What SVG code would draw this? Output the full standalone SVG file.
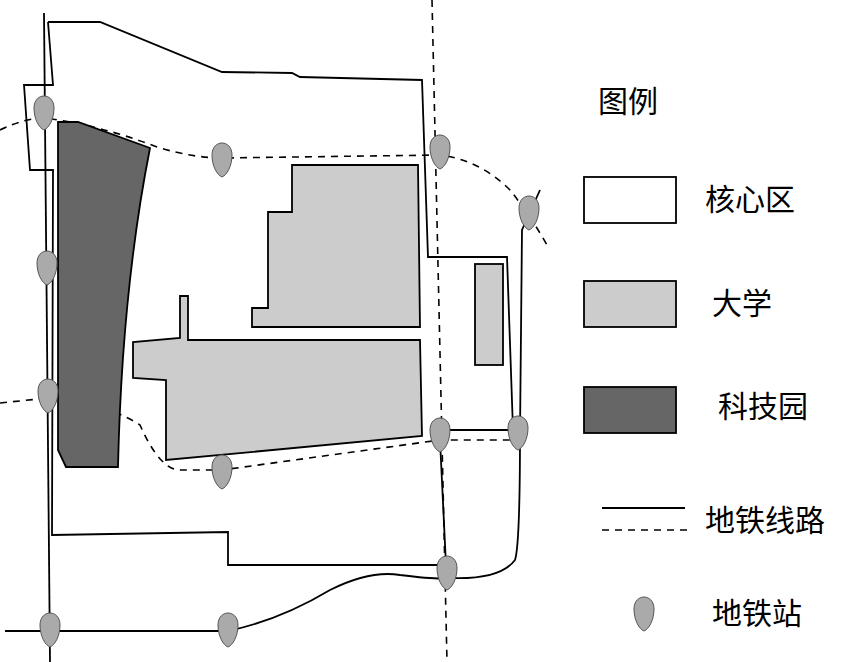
<svg xmlns="http://www.w3.org/2000/svg" width="847" height="662" viewBox="0 0 847 662">
<style>
.ln{fill:none;stroke:#000;stroke-width:1.8}
.ds{fill:none;stroke:#000;stroke-width:1.6;stroke-dasharray:7,6}
.uni{fill:#cccccc;stroke:#000;stroke-width:1.8}
.park{fill:#666666;stroke:#000;stroke-width:1.8}
.st{fill:#aaaaaa;stroke:#555;stroke-width:1}
.t{font-family:"Noto Sans CJK SC","Noto Sans",sans-serif;font-size:30px;fill:#000}
</style>
<defs>
<path id="drop" d="M0,17 C-5,15 -10,6 -10,-5 C-10,-13 -5,-17 0,-17 C5,-17 10,-13 10,-5 C10,6 5,15 0,17 Z"/>
</defs>
<rect width="847" height="662" fill="#fff"/>
<g id="connectors">
<path class="ds" d="M0,130 Q25,118 44,118 Q100,125 160,148 Q195,158 222,158 L440,155 Q480,160 510,190 Q530,215 547,245"/>
<path class="ds" d="M432,0 L447,662"/>
<path class="ds" d="M0,403 L48,398 Q100,400 140,425 Q160,470 180,470 L222,470 L440,440 L518,440"/>
<path class="ln" d="M44,13 L50,662"/>
<path class="ln" d="M5,631 L228,631 Q280,620 330,590 Q370,570 400,575 Q440,580 450,578 Q500,580 515,560 Q520,545 520,433 L522,230 L540,190"/>
<path class="ln" d="M440,430 L518,430"/>
</g>
<g id="core"><path class="ln" d="M48,22 L100,22 L222,72 L292,73 L300,77 L422,80 L428,257 L507,257 L513,430 M440,440 L446,565 L228,565 L228,532 L52,535 L53,170 L30,170 L24,85 L53,85 L48,22"/></g>
<g id="park"><path class="park" d="M58,122 L78,122 L150,148 Q122,290 118,467 L66,467 L58,450 Z"/></g>
<g id="uni1"><path class="uni" d="M292,165 L418,165 L420,327 L252,327 L252,308 L268,308 L268,212 L292,212 Z"/></g>
<g id="uni2"><path class="uni" d="M180,296 L188,296 L188,340 L420,340 L422,436 L166,460 L166,380 L133,378 L133,342 L180,338 Z"/></g>
<g id="uni3"><rect class="uni" x="475" y="264" width="28" height="101"/></g>
<g id="stations">
<use href="#drop" class="st" x="44" y="113"/>
<use href="#drop" class="st" x="222" y="160"/>
<use href="#drop" class="st" x="440" y="152"/>
<use href="#drop" class="st" x="529" y="213"/>
<use href="#drop" class="st" x="47" y="268"/>
<use href="#drop" class="st" x="48" y="396"/>
<use href="#drop" class="st" x="440" y="435"/>
<use href="#drop" class="st" x="518" y="433"/>
<use href="#drop" class="st" x="222" y="472"/>
<use href="#drop" class="st" x="447" y="573"/>
<use href="#drop" class="st" x="50" y="630"/>
<use href="#drop" class="st" x="228" y="630"/>
</g>
<g id="legend">
<text class="t" x="598" y="112">图例</text>
<rect x="584" y="177" width="92" height="46" fill="#fff" stroke="#000" stroke-width="1.8"/>
<text class="t" x="705" y="210">核心区</text>
<rect class="uni" x="584" y="281" width="92" height="46"/>
<text class="t" x="712" y="314">大学</text>
<rect class="park" x="584" y="387" width="92" height="46"/>
<text class="t" x="718" y="417">科技园</text>
<path class="ln" d="M602,508 L685,508"/>
<path class="ds" d="M602,530 L690,530"/>
<text class="t" x="705" y="531">地铁线路</text>
<use href="#drop" class="st" x="644" y="614"/>
<text class="t" x="712" y="624">地铁站</text>
</g>
</svg>
